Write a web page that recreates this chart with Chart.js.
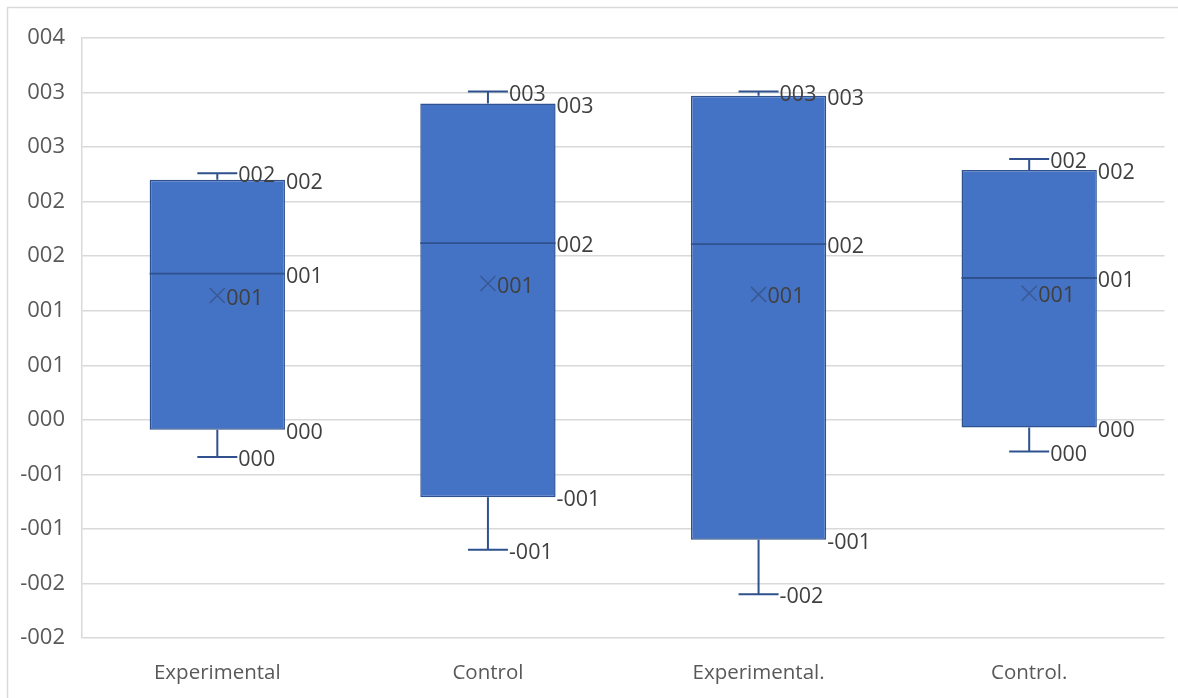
<!DOCTYPE html>
<html>
<head>
<meta charset="utf-8">
<title>Box and whisker chart</title>
<script src="https://cdn.jsdelivr.net/npm/chart.js@4/dist/chart.umd.min.js"></script>
<style>
  html, body { margin: 0; padding: 0; background: #ffffff; }
  #wrap { position: relative; width: 1178px; height: 698px; }
</style>
</head>
<body>
<div id="wrap"><canvas id="chart" width="1178" height="698"></canvas></div>
<script>
// Groups shown along the x axis
const categories = ['Experimental', 'Control', 'Experimental.', 'Control.'];

// Five-number summaries and means per group
const minValues    = [-0.34, -1.19, -1.60, -0.29];
const q1Values     = [-0.09, -0.71, -1.10, -0.07];
const medianValues = [ 1.34,  1.62,  1.61,  1.30];
const meanValues   = [ 1.14,  1.25,  1.15,  1.16];
const q3Values     = [ 2.20,  2.90,  2.97,  2.29];
const maxValues    = [ 2.26,  3.01,  3.01,  2.39];

// Value axis ticks
const tickValues = [3.5, 3, 2.5, 2, 1.5, 1, 0.5, 0, -0.5, -1, -1.5, -2];

// "000" style number format (halves round away from zero)
function fmt(v) {
  const r = Math.sign(v) * Math.round(Math.abs(v));
  if (r === 0) return '000';
  const s = String(Math.abs(r)).padStart(3, '0');
  return (r < 0 ? '-' : '') + s;
}

const BOX_FILL = '#4472C4';
const BOX_LINE = '#2F528F';
const LABEL_COLOR = '#404040';
const TICK_COLOR = '#595959';
const GRID_COLOR = '#D9D9D9';
const FONT = '"Open Sans", "Liberation Sans", sans-serif';

// Whiskers, medians, means and value labels for each box
const boxExtras = {
  id: 'boxExtras',
  afterDatasetsDraw(chart) {
    const ctx = chart.ctx;
    const y = chart.scales.y;
    const meta = chart.getDatasetMeta(0);
    ctx.save();
    meta.data.forEach((bar, i) => {
      const cx = bar.x;
      const half = bar.width / 2;
      const right = cx + half;
      const capHalf = 20;
      const yMin = y.getPixelForValue(minValues[i]);
      const yQ1 = y.getPixelForValue(q1Values[i]);
      const yMed = y.getPixelForValue(medianValues[i]);
      const yMean = y.getPixelForValue(meanValues[i]);
      const yQ3 = y.getPixelForValue(q3Values[i]);
      const yMax = y.getPixelForValue(maxValues[i]);

      ctx.strokeStyle = BOX_LINE;
      ctx.lineWidth = 2;
      ctx.beginPath();
      // upper whisker and cap
      ctx.moveTo(cx, yQ3); ctx.lineTo(cx, yMax);
      ctx.moveTo(cx - capHalf, yMax); ctx.lineTo(cx + capHalf, yMax);
      // lower whisker and cap
      ctx.moveTo(cx, yQ1); ctx.lineTo(cx, yMin);
      ctx.moveTo(cx - capHalf, yMin); ctx.lineTo(cx + capHalf, yMin);
      ctx.stroke();

      // median line across the box
      ctx.lineWidth = 1.8;
      ctx.beginPath();
      ctx.moveTo(cx - half, yMed); ctx.lineTo(right, yMed);
      ctx.stroke();

      // mean marker
      const m = 7.5;
      ctx.strokeStyle = '#3A5A95';
      ctx.lineWidth = 1.6;
      ctx.beginPath();
      ctx.moveTo(cx - m, yMean - m); ctx.lineTo(cx + m, yMean + m);
      ctx.moveTo(cx + m, yMean - m); ctx.lineTo(cx - m, yMean + m);
      ctx.stroke();

      // value labels
      ctx.fillStyle = LABEL_COLOR;
      ctx.font = '21.5px ' + FONT;
      ctx.textAlign = 'left';
      ctx.textBaseline = 'middle';
      const dy = 3;
      ctx.fillText(fmt(maxValues[i]), cx + capHalf + 1, yMax + dy);
      ctx.fillText(fmt(minValues[i]), cx + capHalf + 1, yMin + dy);
      ctx.fillText(fmt(q3Values[i]), right + 1, yQ3 + dy);
      ctx.fillText(fmt(medianValues[i]), right + 1, yMed + dy);
      ctx.fillText(fmt(q1Values[i]), right + 1, yQ1 + dy);
      ctx.fillText(fmt(meanValues[i]), cx + 9, yMean + dy);
    });
    ctx.restore();
  }
};

// Thin frame around the chart
const frame = {
  id: 'frame',
  beforeDraw(chart) {
    const ctx = chart.ctx;
    ctx.save();
    ctx.fillStyle = '#ffffff';
    ctx.fillRect(0, 0, chart.width, chart.height);
    ctx.strokeStyle = GRID_COLOR;
    ctx.lineWidth = 1.5;
    ctx.strokeRect(7.5, 7.5, chart.width + 50, chart.height + 50);
    ctx.restore();
  }
};

new Chart(document.getElementById('chart'), {
  type: 'bar',
  data: {
    labels: categories,
    datasets: [{
      data: categories.map((c, i) => [q1Values[i], q3Values[i]]),
      backgroundColor: BOX_FILL,
      borderColor: BOX_LINE,
      borderWidth: 1.5,
      borderSkipped: false,
      barPercentage: 0.5,
      categoryPercentage: 1
    }]
  },
  options: {
    responsive: false,
    animation: false,
    events: [],
    layout: { padding: { top: 38, right: 13.5, bottom: 0, left: 0 } },
    plugins: {
      legend: { display: false },
      tooltip: { enabled: false },
      title: { display: false }
    },
    scales: {
      x: {
        grid: { display: false },
        border: { display: false },
        ticks: {
          color: TICK_COLOR,
          font: { family: FONT, size: 20.5 },
          padding: 15,
          maxRotation: 0
        },
        afterFit(scale) { scale.height = 60; }
      },
      y: {
        min: -2,
        max: 3.5,
        afterBuildTicks(scale) {
          scale.ticks = tickValues.map(v => ({ value: v }));
        },
        ticks: {
          color: TICK_COLOR,
          font: { family: FONT, size: 22 },
          padding: 17,
          callback: (v) => fmt(v)
        },
        grid: { color: GRID_COLOR, lineWidth: 1.5, drawTicks: false },
        border: { color: GRID_COLOR, width: 1.5 },
        afterFit(scale) { scale.width = 82; }
      }
    }
  },
  plugins: [frame, boxExtras]
});
</script>
</body>
</html>
